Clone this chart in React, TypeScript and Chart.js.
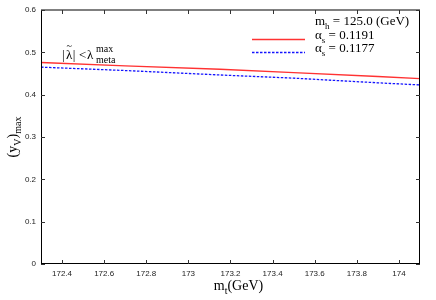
import React, { useEffect, useRef } from "react";
import { Chart, registerables } from "chart.js";

Chart.register(...registerables);

const mtValues = [172.3, 172.7, 173.15, 173.5, 173.9, 174.1];
const ymaxAlpha1191 = [0.476, 0.468, 0.460, 0.452, 0.443, 0.438];
const ymaxAlpha1177 = [0.465, 0.457, 0.4465, 0.439, 0.428, 0.423];
const xTicks = [172.4, 172.6, 172.8, 173, 173.2, 173.4, 173.6, 173.8, 174];
const yTicks = [0, 0.1, 0.2, 0.3, 0.4, 0.5, 0.6];
const seriesLabels = ["0.1191", "0.1177"];
const mhLabel = "125.0";

type Seg = { t: string; k?: "sub" | "sup" };

const SERIF = '"Liberation Serif", "DejaVu Serif", serif';
const RED = "rgb(255,50,50)";
const BLUE = "rgb(20,20,255)";

function drawSegs(ctx: CanvasRenderingContext2D, segs: Seg[], x: number, y: number, size: number, align: "left" | "center" = "left") {
  const small = Math.round(size * 0.72);
  const widths = segs.map((s) => {
    ctx.font = `${s.k ? small : size}px ${SERIF}`;
    return ctx.measureText(s.t).width;
  });
  const total = widths.reduce((a, b) => a + b, 0);
  let cx = align === "center" ? x - total / 2 : x;
  ctx.textAlign = "left";
  ctx.textBaseline = "alphabetic";
  segs.forEach((s, i) => {
    ctx.font = `${s.k ? small : size}px ${SERIF}`;
    const dy = s.k === "sub" ? size * 0.3 : s.k === "sup" ? -size * 0.4 : 0;
    ctx.fillText(s.t, cx, y + dy);
    cx += widths[i];
  });
  return total;
}

const decorPlugin = {
  id: "decor",
  afterDraw(chart: any) {
    const ctx: CanvasRenderingContext2D = chart.ctx;
    const { left, right, top, bottom } = chart.chartArea;
    const xs = chart.scales.x;
    const ys = chart.scales.y;
    ctx.save();
    // frame
    ctx.strokeStyle = "#000";
    ctx.lineWidth = 1;
    ctx.beginPath();
    ctx.moveTo(left + 0.5, top);
    ctx.lineTo(left + 0.5, bottom);
    ctx.moveTo(right - 0.5, top);
    ctx.lineTo(right - 0.5, bottom);
    ctx.moveTo(left, top);
    ctx.lineTo(right, top);
    ctx.moveTo(left, bottom - 0.5);
    ctx.lineTo(right, bottom - 0.5);
    ctx.stroke();
    // inside ticks
    ctx.strokeStyle = "#333";
    ctx.beginPath();
    const tl = 4;
    xTicks.forEach((v) => {
      const px = Math.round(xs.getPixelForValue(v)) + 0.5;
      ctx.moveTo(px, bottom);
      ctx.lineTo(px, bottom - tl);
      ctx.moveTo(px, top);
      ctx.lineTo(px, top + tl);
    });
    yTicks.forEach((v) => {
      const py = Math.round(ys.getPixelForValue(v)) + 0.5;
      ctx.moveTo(left, py);
      ctx.lineTo(left + tl, py);
      ctx.moveTo(right, py);
      ctx.lineTo(right - tl, py);
    });
    ctx.stroke();

    ctx.fillStyle = "#000";
    // axis titles
    drawSegs(ctx, [{ t: "m" }, { t: "t", k: "sub" }, { t: "(GeV)" }], (left + right) / 2 + 8, 290, 14, "center");
    ctx.save();
    ctx.translate(17, (top + bottom) / 2);
    ctx.rotate(-Math.PI / 2);
    drawSegs(ctx, [{ t: "(y" }, { t: "V", k: "sub" }, { t: ")" }, { t: "max", k: "sub" }], 0, 0, 14, "center");
    ctx.restore();

    // legend
    drawSegs(ctx, [{ t: "m" }, { t: "h", k: "sub" }, { t: " = " + mhLabel + " (GeV)" }], 315, 25, 13);
    drawSegs(ctx, [{ t: "α" }, { t: "s", k: "sub" }, { t: " = " + seriesLabels[0] }], 315, 39, 13);
    drawSegs(ctx, [{ t: "α" }, { t: "s", k: "sub" }, { t: " = " + seriesLabels[1] }], 315, 52, 13);
    ctx.save();
    ctx.lineWidth = 1.4;
    ctx.setLineDash([]);
    ctx.strokeStyle = RED;
    ctx.beginPath();
    ctx.moveTo(252, 39.5);
    ctx.lineTo(305, 39.5);
    ctx.stroke();
    ctx.restore();
    ctx.save();
    ctx.lineWidth = 1.3;
    ctx.strokeStyle = BLUE;
    ctx.setLineDash([2.5, 1.5]);
    ctx.beginPath();
    ctx.moveTo(252, 52.5);
    ctx.lineTo(305, 52.5);
    ctx.stroke();
    ctx.restore();

    // annotation
    ctx.fillStyle = "#000";
    ctx.font = `13px ${SERIF}`;
    ctx.textAlign = "left";
    ctx.textBaseline = "alphabetic";
    ctx.fillText("|", 62, 59);
    ctx.fillText("λ", 66, 59);
    const lw = ctx.measureText("λ").width;
    ctx.font = `10px ${SERIF}`;
    const tw = ctx.measureText("~").width;
    ctx.fillText("~", 66 + lw / 2 - tw / 2, 49);
    ctx.font = `13px ${SERIF}`;
    ctx.fillText("|", 66 + lw + 0.5, 59);
    ctx.fillText("<", 79, 59);
    ctx.fillText("λ", 87, 59);
    ctx.font = `10px ${SERIF}`;
    ctx.fillText("max", 96, 52);
    ctx.fillText("meta", 96, 63);
    ctx.restore();
  },
};

export default function App() {
  const ref = useRef<HTMLCanvasElement>(null);
  useEffect(() => {
    document.body.style.margin = "0";
    const tickFont = { family: '"Liberation Sans", Arial, sans-serif', size: 8 };
    const chart = new Chart(ref.current!, {
      type: "line",
      data: {
        datasets: [
          {
            label: "αs = " + seriesLabels[0],
            data: mtValues.map((x, i) => ({ x, y: ymaxAlpha1191[i] })),
            borderColor: RED,
            borderWidth: 1.4,
            pointRadius: 0,
            tension: 0,
          },
          {
            label: "αs = " + seriesLabels[1],
            data: mtValues.map((x, i) => ({ x, y: ymaxAlpha1177[i] })),
            borderColor: BLUE,
            borderWidth: 1.3,
            borderDash: [2.5, 1.5],
            pointRadius: 0,
            tension: 0,
          },
        ],
      },
      options: {
        animation: false,
        responsive: false,
        devicePixelRatio: 1,
        layout: { padding: { top: 10, right: 16, left: 0, bottom: 0 } },
        plugins: { legend: { display: false }, tooltip: { enabled: false } },
        scales: {
          x: {
            type: "linear",
            min: 172.3,
            max: 174.1,
            afterBuildTicks: (s: any) => {
              s.ticks = xTicks.map((v) => ({ value: v }));
            },
            afterFit: (s: any) => {
              s.height = 36;
            },
            grid: { display: false, drawTicks: false },
            border: { display: false },
            ticks: {
              font: tickFont,
              color: "#222",
              padding: 5,
              maxRotation: 0,
              autoSkip: false,
              callback: (v: any) => Number(Number(v).toFixed(1)).toString(),
            },
          },
          y: {
            type: "linear",
            min: 0,
            max: 0.6,
            afterBuildTicks: (s: any) => {
              s.ticks = yTicks.map((v) => ({ value: v }));
            },
            afterFit: (s: any) => {
              s.width = 41;
            },
            grid: { display: false, drawTicks: false },
            border: { display: false },
            ticks: {
              font: tickFont,
              color: "#222",
              padding: 5,
              autoSkip: false,
              callback: (v: any) => Number(Number(v).toFixed(1)).toString(),
            },
          },
        },
      },
      plugins: [decorPlugin],
    } as any);
    return () => chart.destroy();
  }, []);
  return (
    <div style={{ width: 436, height: 300, background: "#fff" }}>
      <canvas ref={ref} width={436} height={300} />
    </div>
  );
}
